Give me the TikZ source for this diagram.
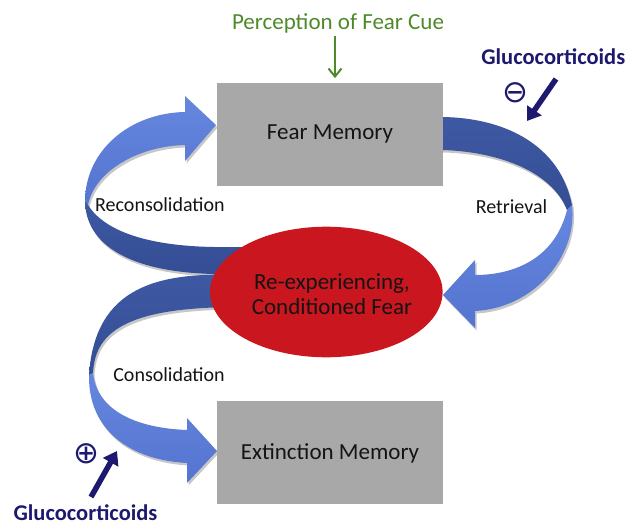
\documentclass[tikz,border=0pt]{standalone}
\usepackage{fontspec}
\setmainfont{Carlito}
\newfontfamily\symfont{DejaVu Sans}
\usetikzlibrary{arrows.meta,shapes.geometric}
\definecolor{ribdark}{RGB}{62,89,163}
\definecolor{ribdarkB}{RGB}{52,77,148}
\definecolor{riblight}{RGB}{84,116,208}
\definecolor{ribpale}{RGB}{102,135,222}
\definecolor{boxgray}{RGB}{168,168,168}
\definecolor{fearred}{RGB}{202,22,30}
\definecolor{cuegreen}{RGB}{78,138,42}
\definecolor{gcnavy}{RGB}{30,24,110}
\definecolor{txtblack}{RGB}{20,20,20}
\def\retdark{(436,117) -- (443,117) .. controls (505,118) and (560,145) .. (572,205) -- (567,210) .. controls (552,172) and (500,152) .. (443,150) -- (436,150) -- cycle}
\def\retlight{(572,205) .. controls (578,255) and (535,308) .. (475,311) -- (475,328) -- (443,295) -- (475,260) -- (475,275) .. controls (515,275) and (555,258) .. (567,210) -- cycle}
\def\reclight{(216,125) -- (185,161) -- (185,145) .. controls (140,146) and (95,170) .. (88,205) -- (85,200) .. controls (86,150) and (130,113) .. (185,112) -- (185,96) -- cycle}
\def\recdark{(85,200) .. controls (85,245) and (130,272) .. (214,274) -- (250,274) -- (250,247) -- (214,247) .. controls (150,246) and (105,232) .. (88,205) -- cycle}
\def\condark{(250,275) -- (240,275) .. controls (160,272) and (95,285) .. (89,375) -- (93,373) .. controls (95,330) and (130,307) .. (240,307) -- (250,307) -- cycle}
\def\conlight{(89,375) .. controls (88,430) and (130,460) .. (187,463) -- (187,483) -- (217,451) -- (187,418) -- (187,430) .. controls (135,428) and (97,410) .. (93,373) -- cycle}
\begin{document}
\begin{tikzpicture}[x=1pt,y=-1pt,
  shadowfill/.style={fill=black,opacity=0.22},
  darkpart/.style={top color=ribdark,bottom color=ribdarkB},
  lightpart/.style={top color=ribpale,bottom color=riblight},
  boxn/.style={rectangle,fill=boxgray,minimum width=225.4pt,minimum height=103pt,inner sep=0pt,
    text=txtblack,font=\fontsize{23}{25}\selectfont},
  ell/.style={ellipse,fill=fearred,minimum width=232.6pt,minimum height=130.6pt,inner sep=0pt},
  bigtxt/.style={inner sep=0pt,text=txtblack,font=\fontsize{23}{25}\selectfont,align=center},
  lbl/.style={inner sep=0pt,text=txtblack,font=\fontsize{20}{22}\selectfont},
  gclbl/.style={inner sep=0pt,text=gcnavy,font=\fontsize{22.5}{24}\selectfont\bfseries},
  sym/.style={inner sep=0pt,text=gcnavy,font=\fontsize{31}{31}\selectfont\symfont},
  cuearrow/.style={draw=cuegreen,line width=2pt,-{Straight Barb[length=8pt,width=13pt]}},
  gcarrow/.style={draw=gcnavy,line width=5.5pt,-{Triangle[length=13pt,width=17pt]}}]
\useasboundingbox (0,0) rectangle (630,530);
% shadows
\fill[shadowfill,shift={(1.5,2.5)}] \recdark;
\fill[shadowfill,shift={(1.5,2.5)}] \reclight;
\fill[shadowfill,shift={(1.5,2.5)}] \condark;
\fill[shadowfill,shift={(1.5,2.5)}] \conlight;
\fill[shadowfill,shift={(1.5,2.5)}] \retdark;
\fill[shadowfill,shift={(1.5,2.5)}] \retlight;
% ribbons
\shade[darkpart] \recdark;
\shade[lightpart] \reclight;
\shade[darkpart] \condark;
\shade[lightpart] \conlight;
\shade[darkpart] \retdark;
\shade[lightpart] \retlight;
% boxes and ellipse
\node[boxn] (fear) at (330,134.2) {Fear Memory};
\node[boxn] (ext) at (330,452.9) {Extinction Memory};
\node[ell] (reexp) at (326.3,292) {};
\node[bigtxt] (reexptxt) at (332,294) {Re-experiencing,\\Conditioned Fear};
% cue
\node[inner sep=0pt,anchor=base,text=cuegreen,font=\fontsize{23}{25}\selectfont] (cue) at (338,30) {Perception of Fear Cue};
\draw[cuearrow,shorten <=2.4pt,shorten >=4.4pt] ([xshift=-3pt]cue.south) -- ([xshift=5pt]fear.north);
% labels
\node[lbl,anchor=base] (retl) at (511.5,213) {Retrieval};
\node[lbl,anchor=base west] (recl) at (95,211.7) {Reconsolidation};
\node[lbl,anchor=base] (conl) at (169,381.7) {Consolidation};
% glucocorticoids
\node[gclbl,anchor=base] (gctop) at (553.3,64.3) {Glucocorticoids};
\node[gclbl,anchor=base] (gcbot) at (85.5,520) {Glucocorticoids};
\node[sym] (minus) at (515,92.7) {⊖};
\node[sym] (plus) at (86,453.3) {⊕};
\coordinate (gta) at (556,79);
\coordinate (gtb) at (527,121);
\coordinate (gba) at (91,497);
\coordinate (gbb) at (117,451);
\draw[gcarrow] (gta) -- (gtb);
\draw[gcarrow] (gba) -- (gbb);
\end{tikzpicture}
\end{document}
